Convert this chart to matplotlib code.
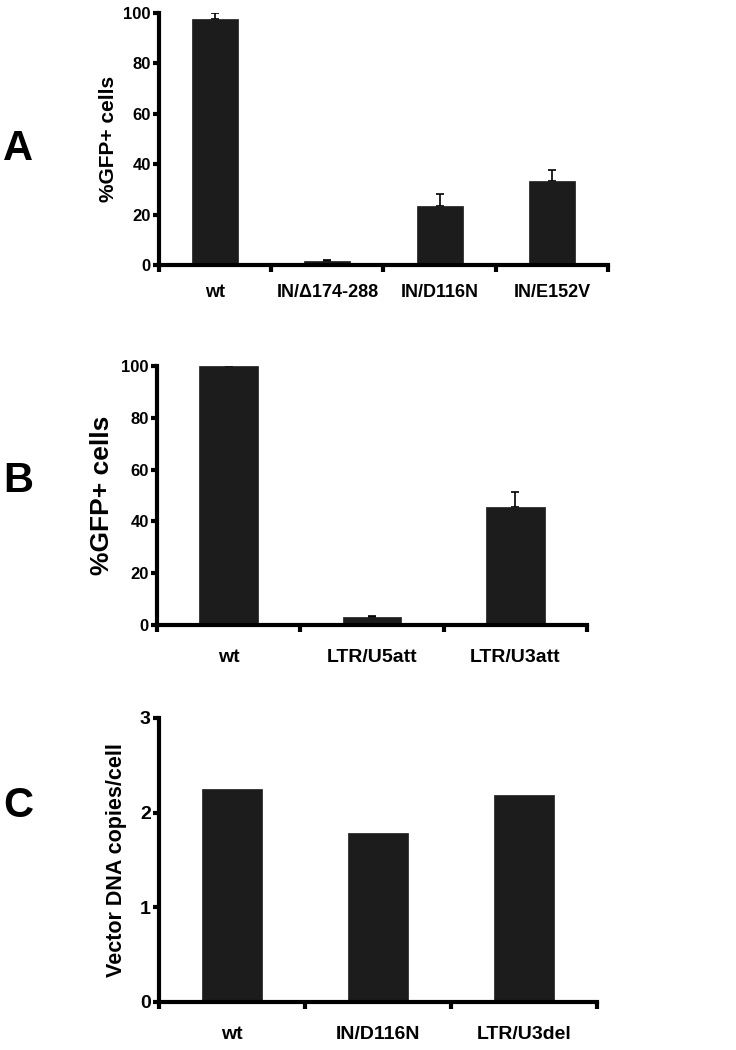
import matplotlib
matplotlib.use("Agg")
import matplotlib.pyplot as plt

plt.rcParams['font.family'] = ['Liberation Sans', 'DejaVu Sans']
plt.rcParams['font.weight'] = 'bold'

# panel A
a_labels = ['wt', 'IN/Δ174-288', 'IN/D116N', 'IN/E152V']
a_values = [97.5, 1.6, 23.5, 33.2]
a_errors = [2.5, 0.3, 4.5, 4.4]

# panel B
b_labels = ['wt', 'LTR/U5att', 'LTR/U3att']
b_values = [100.0, 3.0, 45.5]
b_errors = [0.0, 0.4, 6.0]

# panel C
c_labels = ['wt', 'IN/D116N', 'LTR/U3del']
c_values = [2.25, 1.79, 2.19]

BAR = '#1c1c1c'
W, H = 736, 1050


def panel(fig, rect, labels, values, errors, ymax, yticks, ylabel,
          ylab_x, ylab_size, tick_size, xlab_size, xpad):
    l, b, r, t = rect
    ax = fig.add_axes([l / W, 1 - b / H, (r - l) / W, (b - t) / H])
    n = len(labels)
    xs = list(range(n))
    ax.bar(xs, values, width=0.41, color=BAR, edgecolor=BAR, linewidth=0.5, zorder=2)
    if errors is not None:
        ax.errorbar(xs, values, yerr=[[0] * n, errors], fmt='none',
                    ecolor='black', elinewidth=1.2, capsize=3, capthick=1.2, zorder=1)
    ax.set_xlim(-0.5, n - 0.5)
    ax.set_ylim(0, ymax)
    for s in ['top', 'right']:
        ax.spines[s].set_visible(False)
    for s in ['left', 'bottom']:
        ax.spines[s].set_linewidth(3)
    ax.set_yticks(yticks)
    ax.set_yticklabels([str(v) for v in yticks], fontsize=tick_size, fontweight='bold')
    ax.tick_params(axis='y', direction='out', length=4, width=3, pad=2)
    # boundary ticks on x, labels at centres
    ax.set_xticks([i - 0.5 for i in range(n + 1)])
    ax.set_xticklabels([])
    ax.tick_params(axis='x', which='major', direction='out', length=5, width=3)
    ax.set_xticks(xs, minor=True)
    ax.set_xticklabels(labels, minor=True, fontsize=xlab_size, fontweight='bold')
    ax.tick_params(axis='x', which='minor', length=0, pad=xpad)
    ax.set_ylabel(ylabel, fontsize=ylab_size, fontweight='bold')
    ax.yaxis.set_label_coords(ylab_x, 0.5)
    return ax


fig = plt.figure(figsize=(7.36, 10.5), dpi=100)

panel(fig, (159, 265, 608, 13), a_labels, a_values, a_errors, 100,
      [0, 20, 40, 60, 80, 100], '%GFP+ cells', -0.092, 15, 12, 13, 14)
panel(fig, (157, 625, 587, 366), b_labels, b_values, b_errors, 100,
      [0, 20, 40, 60, 80, 100], '%GFP+ cells', -0.1, 19, 12, 14, 17)
panel(fig, (159, 1002, 597, 718), c_labels, c_values, None, 3,
      [0, 1, 2, 3], 'Vector DNA copies/cell', -0.073, 15.5, 14, 14, 17)

for letter, y in [('A', 149), ('B', 481), ('C', 806)]:
    fig.text(18 / W, 1 - y / H, letter, fontsize=30, fontweight='bold',
             ha='center', va='center')

fig.savefig('out.png', dpi=100)
